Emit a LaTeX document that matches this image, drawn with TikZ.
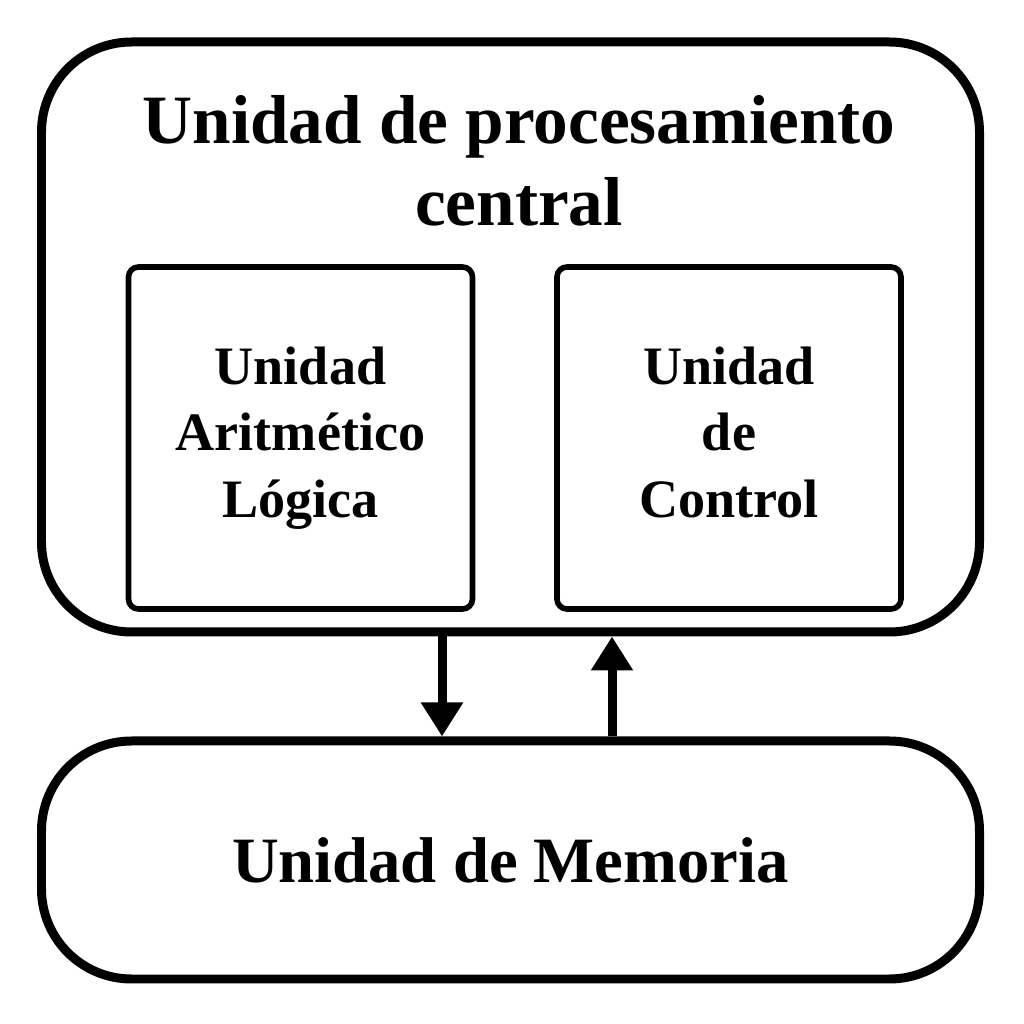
\documentclass[tikz,border=0pt]{standalone}
\usepackage{fontspec}
\setmainfont{Liberation Serif}
\usetikzlibrary{arrows.meta}

\tikzset{
	cpubox/.style={draw, line width=2.56pt, rounded corners=0.9cm, minimum width=9.38cm, minimum height=5.90cm, inner sep=0pt},
	membox/.style={draw, line width=2.56pt, rounded corners=0.9cm, minimum width=9.38cm, minimum height=2.38cm, inner sep=0pt, font=\fontsize{18.4pt}{22pt}\selectfont\bfseries},
	unitbox/.style={draw, line width=1.6pt, rounded corners=0.1cm, minimum width=3.44cm, minimum height=3.42cm, inner sep=0pt, align=center, font=\fontsize{15.4pt}{18.9pt}\selectfont\bfseries},
	flow/.style={line width=2.56pt, -{Triangle[width=0.40cm, length=0.34cm]}}
}

\begin{document}
\begin{tikzpicture}
		\useasboundingbox (0,0) rectangle (10.24,10.24);
		
		\node[cpubox] (cpu) at (5.105,6.87) {};
		\node[align=center, font=\fontsize{19.7pt}{23.4pt}\selectfont\bfseries] (title) at (5.19,8.63) {Unidad de procesamiento\\central};
		
		\node[unitbox] (alu) at (3.005,5.86) {Unidad\\Aritmético\\Lógica};
		\node[unitbox] (cu) at (7.29,5.86) {Unidad\\de\\Control\vphantom{g}};
		
		\node[membox] (mem) at (5.105,1.64) {Unidad de Memoria};
		
		\coordinate (dn) at (4.42,0);
		\coordinate (up) at (6.12,0);
		\draw[flow] (cpu.south -| dn) -- (mem.north -| dn);
		\draw[flow] (mem.north -| up) -- (cpu.south -| up);
		
	\end{tikzpicture}
\end{document}
